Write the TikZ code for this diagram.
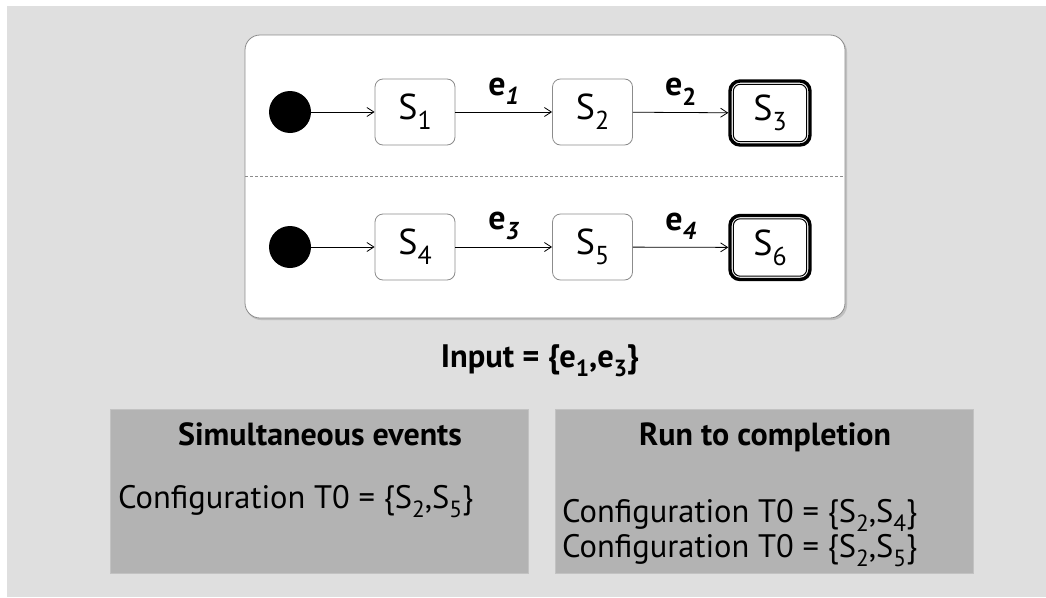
\documentclass[tikz,border=0pt]{standalone}
\usepackage{fontspec}
\setmainfont{PT Sans}
\usetikzlibrary{arrows.meta,calc}
\newcommand\lo[1]{\raisebox{-0.28em}{\scalebox{0.72}{#1}}}
\definecolor{bggray}{HTML}{DFDFDF}
\definecolor{panelgray}{HTML}{B3B3B3}
\definecolor{edgegray}{HTML}{8C8C8C}
\tikzset{
  x=1pt, y=-1pt,
  initstate/.style={circle, fill=black, minimum size=42pt, inner sep=0pt},
  statebox/.style={draw=edgegray, line width=0.8pt, rounded corners=8pt, fill=white,
    minimum width=80pt, minimum height=66pt, inner sep=0pt,
    font=\fontsize{36}{42}\selectfont},
  finalbox/.style={draw=black, line width=3.4pt, rounded corners=10pt, fill=white,
    minimum width=80pt, minimum height=64pt, inner sep=0pt,
    font=\fontsize{36}{42}\selectfont},
  innerring/.style={draw=black, line width=1pt, rounded corners=7pt},
  trans/.style={-{Straight Barb[length=7pt,width=9pt]}, line width=0.8pt},
  evlabel/.style={font=\bfseries\fontsize{34}{40}\selectfont, inner sep=0pt},
  panel/.style={fill=panelgray, draw=panelgray!80!white, line width=1pt},
  paneltitle/.style={font=\bfseries\fontsize{32}{38}\selectfont, anchor=base, inner sep=0pt},
  conftext/.style={font=\fontsize{32.5}{38}\selectfont, anchor=base west, inner sep=0pt}
}
\begin{document}
\begin{tikzpicture}
\useasboundingbox (0,0) rectangle (1046,597);
\fill[white] (0,0) rectangle (1046,597);
\fill[bggray] (7,6) rectangle (1046,597);
% main state machine box
\fill[black!25, rounded corners=15pt] (246,37) rectangle (847,320);
\draw[draw=black!45, fill=white, line width=0.8pt, rounded corners=15pt] (245,35) rectangle (845,318);
\draw[black!45, dashed, dash pattern=on 3pt off 2pt, line width=0.6pt] (245,176) -- (845,176);
% row 1
\node[initstate] (i1) at (290,112) {};
\node[statebox] (s1) at (415,112) {S\lo{1}};
\node[statebox] (s2) at (592.5,112) {S\lo{2}};
\node[finalbox] (s3) at (770,113) {S\lo{3}};
\draw[innerring] ($(s3.south west)+(5,-5)$) rectangle ($(s3.north east)+(-5,5)$);
\draw[trans] (i1) -- (s1);
\draw[trans] (s1) -- node[evlabel, above=7pt] (e1) {e\lo{\itshape 1}} (s2);
\draw[trans] (s2) -- node[evlabel, above=7pt] (e2) {e\lo{2}} (s3);
% row 2
\node[initstate] (i2) at (290,247) {};
\node[statebox] (s4) at (415,247) {S\lo{4}};
\node[statebox] (s5) at (592.5,247) {S\lo{5}};
\node[finalbox] (s6) at (770,247.5) {S\lo{6}};
\draw[innerring] ($(s6.south west)+(5,-5)$) rectangle ($(s6.north east)+(-5,5)$);
\draw[trans] (i2) -- (s4);
\draw[trans] (s4) -- node[evlabel, above=7pt] (e3) {e\lo{\itshape 3}} (s5);
\draw[trans] (s5) -- node[evlabel, above=7pt] (e4) {e\lo{\itshape 4}} (s6);
% input
\node[font=\bfseries\fontsize{32.5}{38}\selectfont, anchor=base, inner sep=0pt] (inp) at (540,367) {Input = \{e\lo{1},e\lo{3}\}};
% panels
\draw[panel] (110,409) rectangle (528,573);
\node[paneltitle] (t1) at (320,445) {Simultaneous events};
\node[conftext] (c1) at (118,508) {Configuration T0 = \{S\lo{2},S\lo{5}\}};
\draw[panel] (555,409) rectangle (973,573);
\node[paneltitle] (t2) at (765,445) {Run to completion};
\node[conftext] (c2) at (562,522) {Configuration T0 = \{S\lo{2},S\lo{4}\}};
\node[conftext] (c3) at (562,557) {Configuration T0 = \{S\lo{2},S\lo{5}\}};
\end{tikzpicture}
\end{document}
